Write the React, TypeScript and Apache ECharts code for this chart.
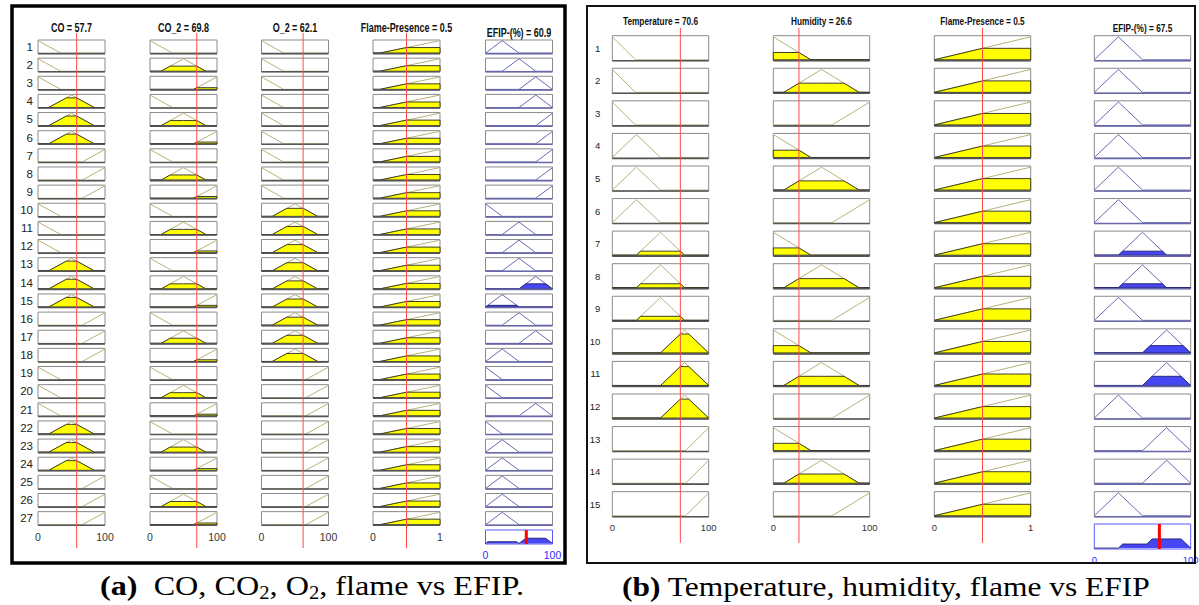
import React, { useEffect, useRef } from "react";
import * as echarts from "echarts";

type Pt = [number, number];

// ---------------- Panel (a): CO, CO2, O2, flame vs EFIP ----------------
const A_TITLES = ["CO = 57.7", "CO_2 = 69.8", "O_2 = 62.1", "Flame-Presence = 0.5"];
const A_OUT_TITLE = "EFIP-(%) = 60.9";
const A_INPUT_VALUES = [57.7, 69.8, 62.1, 0.5];
const A_OUTPUT_VALUE = 60.9;
const A_RANGES = [100, 100, 100, 1];

const A_CO_MFS: Pt[][] = [
  [[0, 1], [34, 0], [100, 0]],
  [[0, 0], [16, 0], [50, 1], [84, 0], [100, 0]],
  [[0, 0], [66, 0], [100, 1]],
];
const A_CO2_MFS: Pt[][] = [
  [[0, 1], [33.5, 0], [100, 0]],
  [[0, 0], [16.5, 0], [50, 1], [83.5, 0], [100, 0]],
  [[0, 0], [65, 0], [100, 1]],
];
const A_O2_MFS: Pt[][] = [
  [[0, 1], [33, 0], [100, 0]],
  [[0, 0], [16, 0], [50, 1], [84, 0], [100, 0]],
  [[0, 0], [66, 0], [100, 1]],
];
const A_FLAME_MFS: Pt[][] = [[[0, 0], [0.1, 0], [1, 1]]];

const A_RULE_CO = [0, 0, 0, 1, 1, 1, 2, 2, 2, 0, 0, 0, 1, 1, 1, 2, 2, 2, 0, 0, 0, 1, 1, 1, 2, 2, 2];
const A_RULE_CO2 = [0, 1, 2, 0, 1, 2, 0, 1, 2, 0, 1, 2, 0, 1, 2, 0, 1, 2, 0, 1, 2, 0, 1, 2, 0, 1, 2];
const A_RULE_O2 = [0, 0, 0, 0, 0, 0, 0, 0, 0, 1, 1, 1, 1, 1, 1, 1, 1, 1, 2, 2, 2, 2, 2, 2, 2, 2, 2];
const A_RULE_FLAME = [0, 0, 0, 0, 0, 0, 0, 0, 0, 0, 0, 0, 0, 0, 0, 0, 0, 0, 0, 0, 0, 0, 0, 0, 0, 0, 0];
const A_RULE_EFIP = [1, 2, 3, 3, 4, 4, 4, 4, 4, 0, 2, 2, 2, 3, 1, 2, 3, 1, 0, 0, 3, 0, 1, 1, 1, 1, 1];

// ---------------- Panel (b): temperature, humidity, flame vs EFIP ----------------
const B_TITLES = ["Temperature = 70.6", "Humidity = 26.6", "Flame-Presence = 0.5"];
const B_OUT_TITLE = "EFIP-(%) = 67.5";
const B_INPUT_VALUES = [70.6, 26.6, 0.5];
const B_OUTPUT_VALUE = 67.5;
const B_RANGES = [100, 100, 1];

const B_TEMP_MFS: Pt[][] = [
  [[0, 1], [24, 0], [100, 0]],
  [[0, 0], [25, 1], [50, 0], [100, 0]],
  [[0, 0], [25, 0], [50, 1], [75, 0], [100, 0]],
  [[0, 0], [50, 0], [75, 1], [100, 0]],
  [[0, 0], [76, 0], [100, 1]],
];
const B_HUM_MFS: Pt[][] = [
  [[0, 1], [39, 0], [100, 0]],
  [[0, 0], [11, 0], [50, 1], [89, 0], [100, 0]],
  [[0, 0], [61, 0], [100, 1]],
];
const B_FLAME_MFS: Pt[][] = [[[0, 0], [1, 1]]];

const B_RULE_TEMP = [0, 0, 0, 1, 1, 1, 2, 2, 2, 3, 3, 3, 4, 4, 4];
const B_RULE_HUM = [0, 1, 2, 0, 1, 2, 0, 1, 2, 0, 1, 2, 0, 1, 2];
const B_RULE_FLAME = [0, 0, 0, 0, 0, 0, 0, 0, 0, 0, 0, 0, 0, 0, 0];
const B_RULE_EFIP = [1, 1, 1, 1, 1, 1, 2, 2, 1, 3, 3, 1, 3, 3, 1];

// ---------------- Output membership functions (EFIP, 0..100) ----------------
const EFIP_MFS: Pt[][] = [
  [[0, 1], [25, 0], [100, 0]],
  [[0, 0], [25, 1], [50, 0], [100, 0]],
  [[0, 0], [25, 0], [50, 1], [75, 0], [100, 0]],
  [[0, 0], [50, 0], [75, 1], [100, 0]],
  [[0, 0], [75, 0], [100, 1]],
];

// ---------------- styling / layout ----------------
const FONT_M = "'Liberation Sans', Arial, sans-serif";
const FONT_CAP = "'Liberation Serif', 'Times New Roman', serif";
const M_LO = 0.04;
const M_HI = 0.05;

const IN_COLORS = { box: "#8a8a8a", mf: "#b9b27a", fill: "#ffff00", edge: "#2a2a1a", base: "#555555" };
const OUT_COLORS = { box: "#8a8a8a", mf: "#6a6ab4", fill: "#4646f2", edge: "#1e1e70", base: "#6666a8" };

const LAYOUT_A = {
  rowTop: 40, pitch: 18.14, boxH: 13.6, colLefts: [38, 150, 261.5, 373, 485.5], colW: 67,
  titleY: 27, outTitleY: 32, redTop: 33, redBot: 548, agg: { left: 485.5, top: 530, w: 67, h: 14 },
  rowMargin: 5, rowFont: 11.5, xMargin: 6, xFont: 10.5, titleFont: 12.5, aggMargin: 5,
};
const LAYOUT_B = {
  rowTop: 35.7, pitch: 32.57, boxH: 25, colLefts: [612.3, 773.3, 934.3, 1094.3], colW: 96.4,
  titleY: 21, outTitleY: 28, redTop: 28, redBot: 543, agg: { left: 1094.3, top: 524, w: 96.4, h: 25 },
  rowMargin: 12, rowFont: 9.5, xMargin: 6, xFont: 9.5, titleFont: 11.5, aggMargin: 5,
};

function evalPL(pts: Pt[], x: number): number {
  if (x <= pts[0][0]) return pts[0][1];
  for (let i = 1; i < pts.length; i++) {
    const [x0, y0] = pts[i - 1];
    const [x1, y1] = pts[i];
    if (x <= x1) return x1 === x0 ? y1 : y0 + ((y1 - y0) * (x - x0)) / (x1 - x0);
  }
  return pts[pts.length - 1][1];
}

function clipPL(pts: Pt[], a: number): Pt[] {
  const out: Pt[] = [];
  for (let i = 0; i < pts.length; i++) {
    const [x, y] = pts[i];
    if (i > 0) {
      const [px, py] = pts[i - 1];
      if ((py - a) * (y - a) < 0) {
        const t = (a - py) / (y - py);
        out.push([px + t * (x - px), a]);
      }
    }
    out.push([x, Math.min(y, a)]);
  }
  return out;
}

function aggregate(fns: Pt[][], xMax: number): Pt[] {
  const set = new Set<number>([0, xMax]);
  fns.forEach((f) => f.forEach((p) => set.add(p[0])));
  let xs = Array.from(set).sort((a, b) => a - b);
  const extra: number[] = [];
  for (let i = 1; i < xs.length; i++) {
    const x0 = xs[i - 1];
    const x1 = xs[i];
    for (let a = 0; a < fns.length; a++)
      for (let b = a + 1; b < fns.length; b++) {
        const d0 = evalPL(fns[a], x0) - evalPL(fns[b], x0);
        const d1 = evalPL(fns[a], x1) - evalPL(fns[b], x1);
        if (d0 * d1 < 0) extra.push(x0 + ((x1 - x0) * d0) / (d0 - d1));
      }
  }
  xs = xs.concat(extra).sort((a, b) => a - b);
  return xs.map((x) => [x, Math.max(0, ...fns.map((f) => evalPL(f, x)))] as Pt);
}

function columnRenderer(mfs: Pt[][], rules: number[], alphas: number[], xMax: number, bh: number, colors: any) {
  return (params: any, api: any) => {
    const r = params.dataIndex;
    const mf = mfs[rules[r]];
    const a = alphas[r];
    const yv = (mu: number) => r + bh * (1 - (mu + M_LO) / (1 + M_LO + M_HI));
    const P = (x: number, mu: number) => api.coord([x, yv(mu)]);
    const tl = api.coord([0, r]);
    const br = api.coord([xMax, r + bh]);
    const children: any[] = [
      {
        type: "rect",
        shape: { x: tl[0], y: tl[1], width: br[0] - tl[0], height: br[1] - tl[1] },
        style: { fill: "#ffffff", stroke: colors.box, lineWidth: 1 },
      },
      {
        type: "polyline",
        shape: { points: mf.map((p) => P(p[0], p[1])) },
        style: { fill: "none", stroke: colors.mf, lineWidth: 1 },
      },
    ];
    if (a > 0) {
      const c = clipPL(mf, a);
      const pts = ([[0, 0]] as Pt[]).concat(c, [[xMax, 0]]).map((p) => P(p[0], p[1]));
      children.push({
        type: "polygon",
        shape: { points: pts },
        style: { fill: colors.fill, stroke: colors.edge, lineWidth: 0.9 },
      });
    }
    children.push({
      type: "line",
      shape: { x1: tl[0], y1: br[1], x2: br[0], y2: br[1] },
      style: { stroke: colors.base, lineWidth: 1.6 },
    });
    return { type: "group", children };
  };
}

function textEl(text: string, x: number, y: number, size: number, weight: string, sx = 0.72) {
  return {
    type: "text",
    x,
    y,
    scaleX: sx,
    silent: true,
    style: {
      text,
      fill: "#111111",
      fontSize: size,
      fontWeight: weight,
      fontFamily: FONT_M,
      align: "center",
      verticalAlign: "middle",
      textAlign: "center",
      textVerticalAlign: "middle",
    },
  };
}

function buildPanel(L: any, inputs: any[], output: any, titles: string[], outTitle: string, option: any) {
  const N = output.rules.length;
  const bh = L.boxH / L.pitch;
  const gridH = (N - 1) * L.pitch + L.boxH;
  const yMax = N - 1 + bh;
  const inAlphas: number[][] = inputs.map((inp) => inp.rules.map((k: number) => evalPL(inp.mfs[k], inp.value)));
  const outAlphas: number[] = output.rules.map((_: number, r: number) => Math.min(...inAlphas.map((a) => a[r])));
  const cols = inputs
    .map((inp, i) => ({ ...inp, alphas: inAlphas[i], kind: "in" }))
    .concat([{ ...output, range: 100, alphas: outAlphas, kind: "out" }]);
  const rowCenters = output.rules.map((_: number, r: number) => r + bh / 2);

  cols.forEach((col: any, c: number) => {
    const gi = option.grid.length;
    option.grid.push({
      left: L.colLefts[c], top: L.rowTop, width: L.colW, height: gridH,
      outerBoundsMode: "none", containLabel: false, show: false,
    });
    option.xAxis.push({
      gridIndex: gi, type: "value", min: 0, max: col.range, interval: col.range,
      axisLine: { show: false }, axisTick: { show: false }, splitLine: { show: false },
      axisLabel: {
        show: col.kind === "in", margin: L.xMargin, color: "#333333", fontSize: L.xFont, fontFamily: FONT_M,
        formatter: (v: number) => String(v),
      },
    });
    option.yAxis.push({
      gridIndex: gi, type: "value", min: 0, max: yMax, inverse: true,
      axisLine: { show: false }, axisTick: { show: false }, splitLine: { show: false },
      axisLabel:
        c === 0
          ? {
              show: true, customValues: rowCenters, margin: L.rowMargin, fontSize: L.rowFont, color: "#222222",
              fontFamily: FONT_M, formatter: (v: number) => String(Math.round(v - bh / 2) + 1),
            }
          : { show: false },
    });
    option.series.push({
      type: "custom", xAxisIndex: gi, yAxisIndex: gi, silent: true, clip: false,
      renderItem: columnRenderer(col.mfs, col.rules, col.alphas, col.range, bh, col.kind === "in" ? IN_COLORS : OUT_COLORS),
      data: col.rules.map((k: number, r: number) => ({ value: [0, r] })),
    });
    if (col.kind === "in") {
      option.series.push({
        type: "line", xAxisIndex: gi, yAxisIndex: gi, silent: true, clip: false, symbol: "none", z: 5,
        lineStyle: { color: "#ff4a4a", width: 1 },
        data: [
          [col.value, (L.redTop - L.rowTop) / L.pitch],
          [col.value, (L.redBot - L.rowTop) / L.pitch],
        ],
      });
      option.graphic.push(textEl(titles[c], L.colLefts[c] + L.colW / 2, L.titleY, L.titleFont, "bold"));
    } else {
      option.graphic.push(textEl(outTitle, L.colLefts[c] + L.colW / 2, L.outTitleY, L.titleFont, "bold"));
    }
  });

  // aggregated output
  const fired = output.rules
    .map((k: number, r: number) => ({ k, a: outAlphas[r] }))
    .filter((o: any) => o.a > 0)
    .map((o: any) => clipPL(output.mfs[o.k], o.a));
  const agg = aggregate(fired, 100);
  const gi = option.grid.length;
  option.grid.push({
    left: L.agg.left, top: L.agg.top, width: L.agg.w, height: L.agg.h, show: true,
    borderColor: "#5a5aff", borderWidth: 1, backgroundColor: "#ffffff", outerBoundsMode: "none", containLabel: false,
  });
  option.xAxis.push({
    gridIndex: gi, type: "value", min: 0, max: 100, interval: 100,
    axisLine: { show: false }, axisTick: { show: false }, splitLine: { show: false },
    axisLabel: { margin: L.aggMargin, color: "#2a2aff", fontSize: L.xFont, fontFamily: FONT_M },
  });
  option.yAxis.push({
    gridIndex: gi, type: "value", min: -M_LO, max: 1 + M_HI, show: false, splitLine: { show: false },
  });
  option.series.push({
    type: "line", xAxisIndex: gi, yAxisIndex: gi, silent: true, symbol: "none", clip: false,
    data: agg, lineStyle: { color: "#1e1e6e", width: 0.9 }, areaStyle: { color: "#4646f2", opacity: 1, origin: 0 },
  });
  option.series.push({
    type: "line", xAxisIndex: gi, yAxisIndex: gi, silent: true, symbol: "none", clip: false, z: 5,
    data: [[output.value, -M_LO], [output.value, 1 + M_HI]], lineStyle: { color: "#ff0000", width: 3 },
  });
}

function buildOption() {
  const option: any = {
    animation: false,
    backgroundColor: "#ffffff",
    grid: [], xAxis: [], yAxis: [], series: [],
    graphic: [] as any[],
  };
  buildPanel(
    LAYOUT_A,
    [
      { mfs: A_CO_MFS, rules: A_RULE_CO, value: A_INPUT_VALUES[0], range: A_RANGES[0] },
      { mfs: A_CO2_MFS, rules: A_RULE_CO2, value: A_INPUT_VALUES[1], range: A_RANGES[1] },
      { mfs: A_O2_MFS, rules: A_RULE_O2, value: A_INPUT_VALUES[2], range: A_RANGES[2] },
      { mfs: A_FLAME_MFS, rules: A_RULE_FLAME, value: A_INPUT_VALUES[3], range: A_RANGES[3] },
    ],
    { mfs: EFIP_MFS, rules: A_RULE_EFIP, value: A_OUTPUT_VALUE },
    A_TITLES, A_OUT_TITLE, option
  );
  buildPanel(
    LAYOUT_B,
    [
      { mfs: B_TEMP_MFS, rules: B_RULE_TEMP, value: B_INPUT_VALUES[0], range: B_RANGES[0] },
      { mfs: B_HUM_MFS, rules: B_RULE_HUM, value: B_INPUT_VALUES[1], range: B_RANGES[1] },
      { mfs: B_FLAME_MFS, rules: B_RULE_FLAME, value: B_INPUT_VALUES[2], range: B_RANGES[2] },
    ],
    { mfs: EFIP_MFS, rules: B_RULE_EFIP, value: B_OUTPUT_VALUE },
    B_TITLES, B_OUT_TITLE, option
  );

  // panel frames
  option.graphic.push({
    type: "rect", silent: true, z: 100,
    shape: { x: 12, y: 6, width: 553, height: 557 },
    style: { fill: "none", stroke: "#000000", lineWidth: 3.5 },
  });
  option.graphic.push({
    type: "rect", silent: true, z: 100,
    shape: { x: 587, y: 6, width: 608, height: 557 },
    style: { fill: "none", stroke: "#111111", lineWidth: 2 },
  });

  // captions
  const capRich = {
    b: { fontFamily: FONT_CAP, fontSize: 28, fontWeight: "bold", lineHeight: 32, fill: "#000" },
    s: { fontFamily: FONT_CAP, fontSize: 18, lineHeight: 18, verticalAlign: "bottom", fill: "#000" },
  };
  option.graphic.push({
    type: "text", x: 100, y: 586, scaleX: 1.15, silent: true,
    style: {
      text: "{b|(a)}  CO, CO{s|2}, O{s|2}, flame vs EFIP.",
      rich: capRich, fontFamily: FONT_CAP, fontSize: 28, lineHeight: 32, fill: "#000",
      align: "left", verticalAlign: "middle", textAlign: "left", textVerticalAlign: "middle",
    },
  });
  option.graphic.push({
    type: "text", x: 622, y: 586, scaleX: 1.125, silent: true,
    style: {
      text: "{b|(b)} Temperature, humidity, flame vs EFIP",
      rich: capRich, fontFamily: FONT_CAP, fontSize: 28, lineHeight: 32, fill: "#000",
      align: "left", verticalAlign: "middle", textAlign: "left", textVerticalAlign: "middle",
    },
  });
  return option;
}

export default function App() {
  const ref = useRef<HTMLDivElement>(null);
  useEffect(() => {
    if (!ref.current) return;
    const chart = echarts.init(ref.current, undefined, { renderer: "svg" });
    chart.setOption(buildOption());
    return () => chart.dispose();
  }, []);
  return <div ref={ref} style={{ position: "absolute", left: 0, top: 0, width: 1199, height: 605, background: "#fff" }} />;
}
